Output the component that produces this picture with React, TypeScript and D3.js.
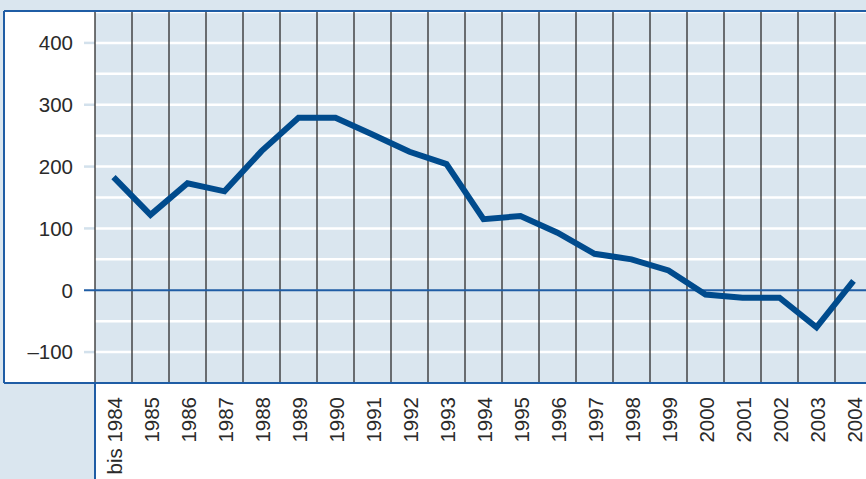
import React from "react";
import * as d3 from "d3";

const categories = ["bis 1984","1985","1986","1987","1988","1989","1990","1991","1992","1993","1994","1995","1996","1997","1998","1999","2000","2001","2002","2003","2004"];
const values = [183, 122, 173, 160, 225, 279, 279, 252, 224, 204, 115, 120, 93, 59, 50, 32, -7, -12, -12, -60, 15];
const yTicks = [400, 300, 200, 100, 0, -100];
const yGrid = [450, 400, 350, 300, 250, 200, 150, 100, 50, -50, -100];

const W = 866, H = 479;
const plotL = 95, plotT = 12, plotB = 383, colW = 37;
const font = "'Liberation Sans', Arial, sans-serif";

export default function App() {
  const x = d3.scaleBand<string>().domain(categories).range([plotL, plotL + categories.length * colW]).padding(0);
  const y = d3.scaleLinear().domain([-150, 450]).range([plotB, plotT]);
  const line = d3.line<number>()
    .x((_, i) => (x(categories[i]) as number) + x.bandwidth() / 2)
    .y((d) => y(d));
  const bgBlue = "#dae6ef";
  const frame = "#1f5da5";
  return (
    <svg width={W} height={H} style={{ position: "absolute", left: 0, top: 0 }}>
      <rect x={0} y={0} width={W} height={H} fill={bgBlue} />
      <rect x={4} y={11} width={plotL - 4} height={plotB - 11} fill="#ffffff" />
      <rect x={plotL} y={plotB} width={W - plotL} height={H - plotB} fill="#ffffff" />
      <defs>
        <clipPath id="plotclip">
          <rect x={plotL} y={plotT} width={W - plotL} height={plotB - plotT} />
        </clipPath>
      </defs>
      {yGrid.map((v) => (
        <line key={"g" + v} x1={plotL} x2={W} y1={y(v)} y2={y(v)} stroke="#ffffff" strokeWidth={2.5} />
      ))}
      {yTicks.filter((v) => v !== 0).map((v) => (
        <line key={"t" + v} x1={84} x2={plotL} y1={y(v)} y2={y(v)} stroke="#d3e1ec" strokeWidth={2.5} />
      ))}
      {categories.map((c) => (
        <line key={"v" + c} x1={x(c) as number} x2={x(c) as number} y1={plotT} y2={plotB} stroke="#2b2b2b" strokeWidth={1.3} />
      ))}
      <line x1={84} x2={W} y1={y(0)} y2={y(0)} stroke={frame} strokeWidth={2} />
      <path d={line(values) || ""} fill="none" stroke="#004b8d" strokeWidth={6} strokeLinejoin="miter" clipPath="url(#plotclip)" />
      <line x1={4} x2={W} y1={11} y2={11} stroke={frame} strokeWidth={2} />
      <line x1={4} x2={4} y1={11} y2={plotB} stroke={frame} strokeWidth={2} />
      <line x1={4} x2={W} y1={plotB} y2={plotB} stroke={frame} strokeWidth={2} />
      <line x1={plotL} x2={plotL} y1={plotB} y2={H} stroke={frame} strokeWidth={2} />
      {yTicks.map((v) => (
        <text key={"yl" + v} x={73} y={y(v)} dy="0.36em" textAnchor="end" fontFamily={font} fontSize={20.5} fill="#2a2a2a">
          {v < 0 ? "\u2013" + Math.abs(v) : String(v)}
        </text>
      ))}
      {categories.map((c) => {
        const cx = (x(c) as number) + x.bandwidth() / 2;
        return (
          <text key={"xl" + c} transform={`translate(${cx + 8},397) rotate(-90)`} textAnchor="end" fontFamily={font} fontSize={20.5} fill="#2a2a2a">
            {c}
          </text>
        );
      })}
    </svg>
  );
}
